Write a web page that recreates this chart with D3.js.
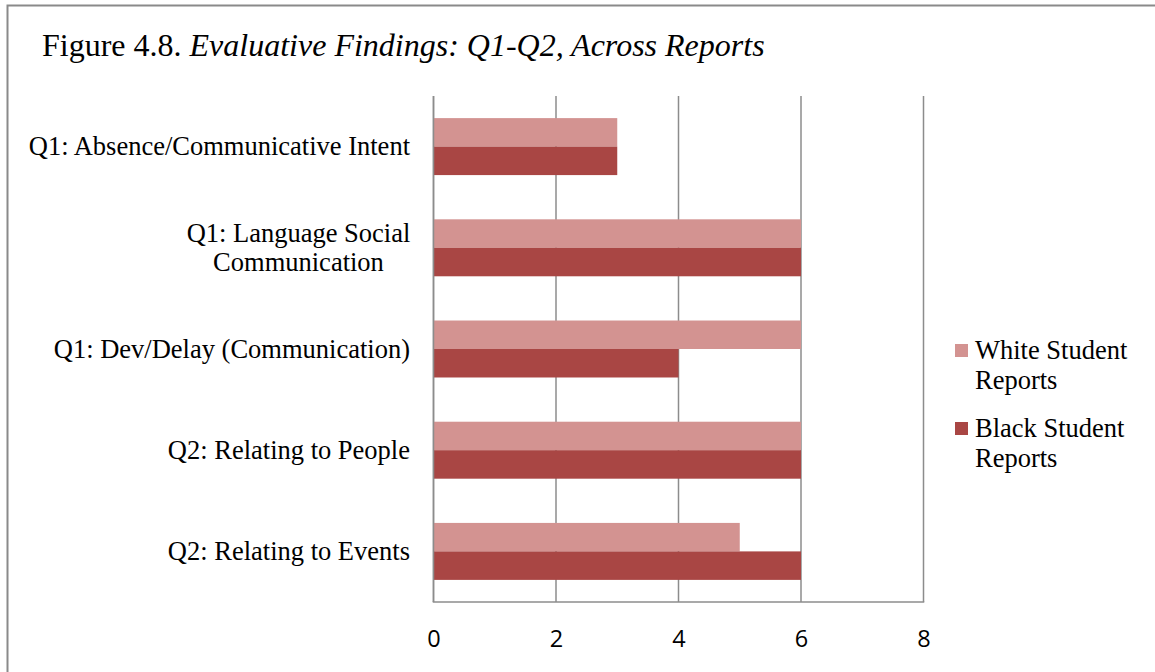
<!DOCTYPE html>
<html>
<head>
<meta charset="utf-8">
<script src="https://cdn.jsdelivr.net/npm/d3@7"></script>
<style>
  html, body { margin: 0; padding: 0; background: #fff; }
  svg { display: block; }
</style>
</head>
<body>
<svg id="chart" width="1155" height="672"></svg>
<script>
// Categories, top to bottom, each split into its wrapped lines
const categories = [
  "Q1: Absence/Communicative Intent",
  "Q1: Language Social Communication",
  "Q1: Dev/Delay (Communication)",
  "Q2: Relating to People",
  "Q2: Relating to Events"
];
const categoryLines = [
  ["Q1: Absence/Communicative Intent"],
  ["Q1: Language Social", "Communication"],
  ["Q1: Dev/Delay (Communication)"],
  ["Q2: Relating to People"],
  ["Q2: Relating to Events"]
];
const seriesNames = ["White Student Reports", "Black Student Reports"];
const whiteValues = [3, 6, 6, 6, 5];
const blackValues = [3, 6, 4, 6, 6];
const xTicks = [0, 2, 4, 6, 8];

const colors = ["#D39391", "#A94644"];
const serif = "'Liberation Serif', 'Times New Roman', serif";
const sans = "'Open Sans', 'Noto Sans', sans-serif";
const labelSize = 26.5;

const svg = d3.select("#chart");

// Outer frame
svg.append("rect")
  .attr("x", 7.5).attr("y", 5.5)
  .attr("width", 1160).attr("height", 680)
  .attr("fill", "none").attr("stroke", "#8a8a8a").attr("stroke-width", 2);

// Title
const title = svg.append("text")
  .attr("x", 42).attr("y", 56)
  .attr("font-family", serif).attr("font-size", 32).attr("fill", "#000");
title.append("tspan").text("Figure 4.8. ");
title.append("tspan").attr("font-style", "italic").text("Evaluative Findings: Q1-Q2, Across Reports");

// Plot area
const plot = { left: 433.5, right: 923.5, top: 96, bottom: 602 };

const x = d3.scaleLinear().domain([0, 8]).range([plot.left, plot.right]);
const y = d3.scaleBand().domain(categories).range([plot.top, plot.bottom])
  .paddingInner(0.437).paddingOuter(0.2185);
const ySub = d3.scaleBand().domain(seriesNames).range([0, y.bandwidth()]);

// Vertical gridlines
svg.append("g").selectAll("line").data(xTicks).join("line")
  .attr("x1", d => x(d)).attr("x2", d => x(d))
  .attr("y1", plot.top).attr("y2", plot.bottom)
  .attr("stroke", "#8c8c8c").attr("stroke-width", 1.5);

// Bars
const rows = categories.map((c, i) => ({ cat: c, vals: [whiteValues[i], blackValues[i]] }));
const groups = svg.append("g").selectAll("g").data(rows).join("g")
  .attr("transform", d => `translate(0,${y(d.cat)})`);
groups.selectAll("rect").data(d => d.vals.map((v, j) => ({ v, s: seriesNames[j], j })))
  .join("rect")
  .attr("x", x(0))
  .attr("y", d => ySub(d.s))
  .attr("width", d => x(d.v) - x(0))
  .attr("height", ySub.bandwidth())
  .attr("fill", d => colors[d.j]);

// Axis lines (left and bottom)
svg.append("line")
  .attr("x1", plot.left).attr("x2", plot.left)
  .attr("y1", plot.top).attr("y2", plot.bottom)
  .attr("stroke", "#8c8c8c").attr("stroke-width", 1.5);
svg.append("line")
  .attr("x1", plot.left - 0.75).attr("x2", plot.right + 0.75)
  .attr("y1", plot.bottom).attr("y2", plot.bottom)
  .attr("stroke", "#8c8c8c").attr("stroke-width", 1.5);

// X axis tick labels
const xAxis = d3.axisBottom(x).tickValues(xTicks).tickSize(0).tickPadding(0).tickFormat(d3.format("d"));
const xg = svg.append("g").attr("transform", `translate(0,${plot.bottom})`).call(xAxis);
xg.select(".domain").remove();
xg.selectAll("text")
  .attr("y", 44.5).attr("dy", null)
  .attr("font-family", sans).attr("font-size", 23.5).attr("fill", "#000");

// Category labels
const lineH = 29;
const labelG = svg.append("g");
categories.forEach((c, i) => {
  const lines = categoryLines[i];
  const cy = y(c) + y.bandwidth() / 2;
  const first = cy + 8.5 - (lines.length - 1) * lineH / 2;
  const t = labelG.append("text")
    .attr("font-family", serif).attr("font-size", labelSize).attr("fill", "#000");
  if (lines.length === 1) {
    t.attr("x", 410).attr("y", first).attr("text-anchor", "end").text(lines[0]);
  } else {
    t.attr("text-anchor", "middle");
    lines.forEach((ln, k) => {
      t.append("tspan").attr("x", 298.5).attr("y", first + k * lineH).text(ln);
    });
  }
});

// Legend
const legendItems = [
  { name: seriesNames[0], lines: ["White Student", "Reports"], color: colors[0], top: 357 },
  { name: seriesNames[1], lines: ["Black Student", "Reports"], color: colors[1], top: 435 }
];
const lg = svg.append("g").selectAll("g").data(legendItems).join("g");
lg.append("rect")
  .attr("x", 955).attr("y", d => d.top - 13)
  .attr("width", 13).attr("height", 13)
  .attr("fill", d => d.color);
lg.append("text")
  .attr("font-family", serif).attr("font-size", labelSize).attr("fill", "#000")
  .selectAll("tspan").data(d => d.lines.map((l, k) => ({ l, k, top: d.top })))
  .join("tspan")
  .attr("x", 975)
  .attr("y", d => d.top + 2 + d.k * 30)
  .text(d => d.l);
</script>
</body>
</html>
